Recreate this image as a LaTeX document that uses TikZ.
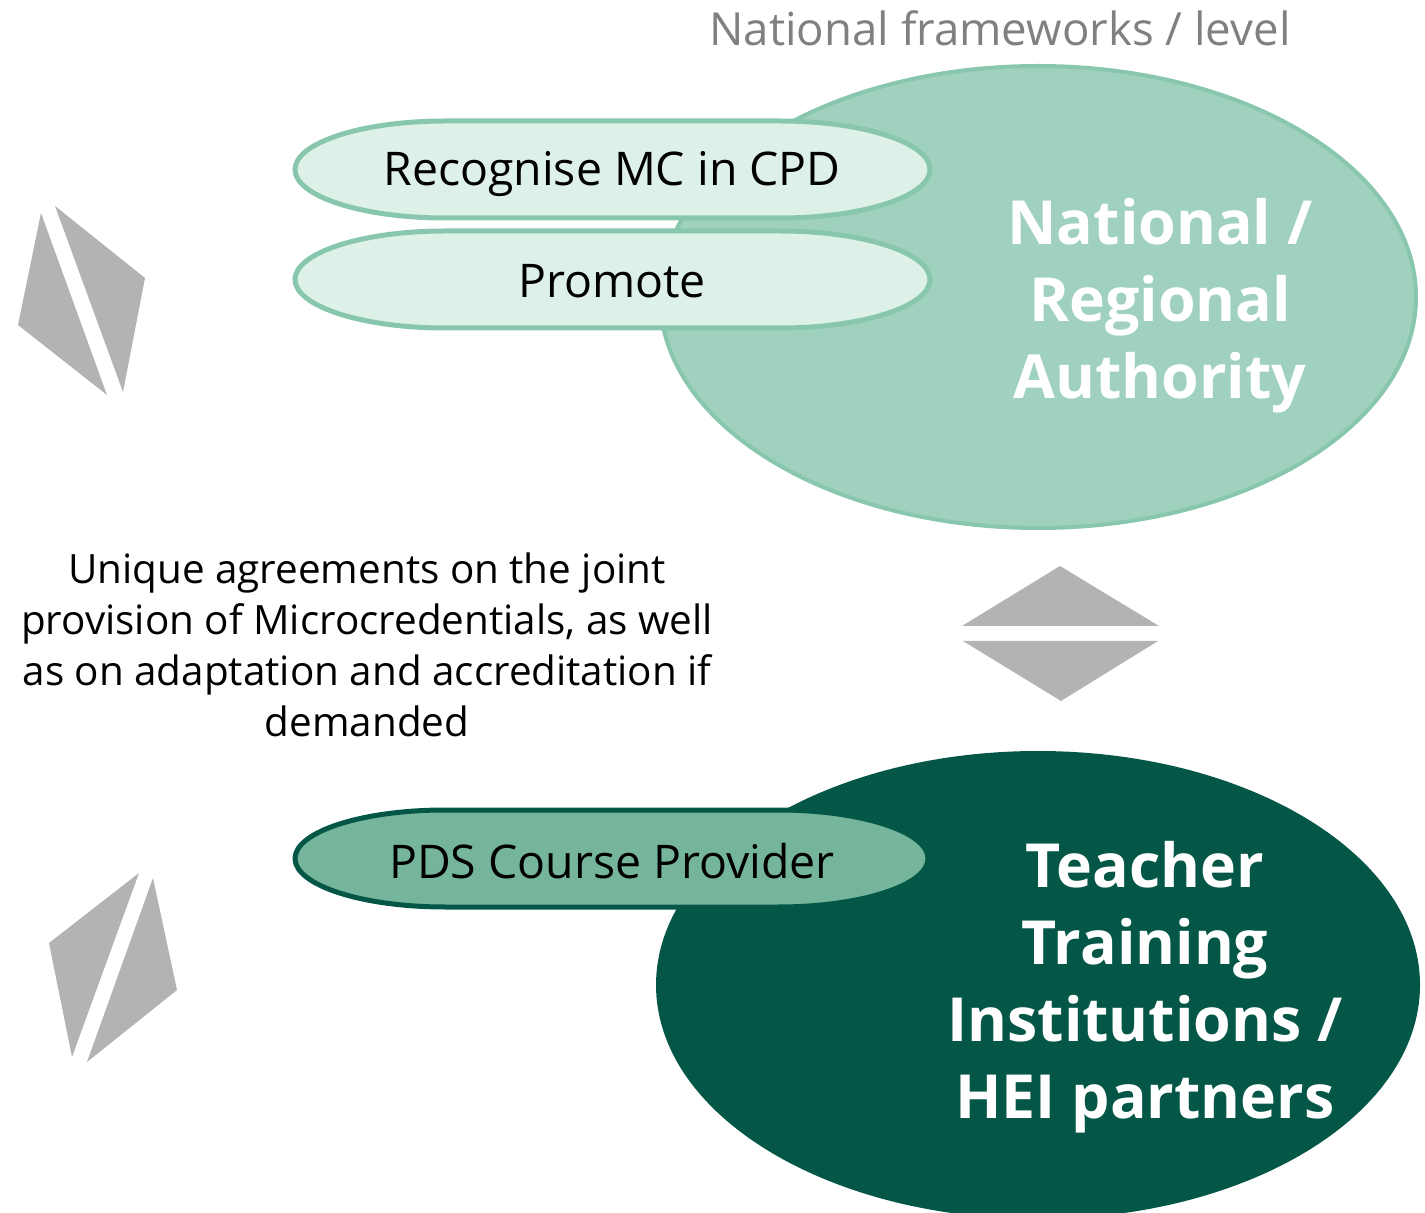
\documentclass[tikz,border=0pt]{standalone}
\usepackage{fontspec}
\setmainfont{Open Sans}
\definecolor{lightfill}{HTML}{9FD1BE}
\definecolor{lightline}{HTML}{88C7AE}
\definecolor{pillfill}{HTML}{DEF1E8}
\definecolor{darkgreen}{HTML}{045747}
\definecolor{midgreen}{HTML}{75B59B}
\definecolor{arrowgrey}{HTML}{B3B3B3}
\tikzset{
	pillbox/.style={line width=2.5pt},
	bigtext/.style={font=\fontsize{30.4}{38.5}\selectfont\bfseries,text=white,align=center},
	pilltext/.style={font=\fontsize{23.2}{28}\selectfont}
}

\begin{document}
\begin{tikzpicture}[x=0.5pt,y=-0.5pt]
	\useasboundingbox (0,0) rectangle (1425,1213);

	\node[font=\fontsize{22.8}{27}\selectfont,text=black!50] (title) at (1000,28) {National frameworks / level};

	\draw[fill=lightfill,draw=lightline,line width=2pt] (1038,297) ellipse [x radius=378,y radius=231];
	\draw[fill=darkgreen,draw=darkgreen,line width=2pt] (1038,985) ellipse [x radius=380,y radius=232];

	\begin{scope}[pillbox,fill=pillfill,draw=lightline]
		\filldraw (445,121) arc [start angle=-90,end angle=-270,x radius=150,y radius=48.5]
			-- (780,218) arc [start angle=90,end angle=-90,x radius=150,y radius=48.5] -- cycle;
		\filldraw (445,231) arc [start angle=-90,end angle=-270,x radius=150,y radius=48.5]
			-- (780,328) arc [start angle=90,end angle=-90,x radius=150,y radius=48.5] -- cycle;
	\end{scope}
	\filldraw[pillbox,fill=midgreen,draw=darkgreen] (445,810) arc [start angle=-90,end angle=-270,x radius=150,y radius=48.5]
		-- (778,907) arc [start angle=90,end angle=-90,x radius=150,y radius=48.5] -- cycle;

	\begin{scope}[every node/.style={pilltext}]
		\node (cpd) at (612,174) {Recognise MC in CPD};
		\node (promote) at (612,281) {Promote};
		\node (pds) at (612,861) {PDS Course Provider};
	\end{scope}

	\node[bigtext] (nra) at (1160,306) {National /\\Regional\\Authority};
	\node[bigtext] (tti) at (1145,987) {Teacher\\Training\\Institutions /\\HEI partners};

	\node[font=\fontsize{20.2}{25.5}\selectfont,align=center] (agree) at (367,645)
		{Unique agreements on the joint\\provision of Microcredentials, as well\\as on adaptation and accreditation if\\demanded};

	\begin{scope}[fill=arrowgrey]
		\fill (41,213) -- (18,325) -- (107,395) -- cycle;
		\fill (55,206) -- (145,278) -- (123,392) -- cycle;
		\fill (139,873) -- (49,943) -- (72,1057) -- cycle;
		\fill (153,878) -- (177,990) -- (87,1062) -- cycle;
		\fill (1060,566) -- (962,626) -- (1159,626) -- cycle;
		\fill (963,641) -- (1158,641) -- (1061,701) -- cycle;
	\end{scope}
\end{tikzpicture}
\end{document}
